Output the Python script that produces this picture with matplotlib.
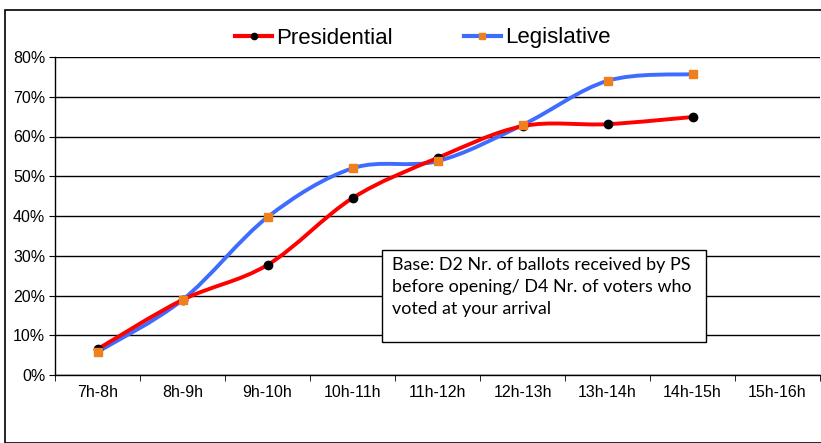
import numpy as np
import matplotlib
matplotlib.use("Agg")
import matplotlib.pyplot as plt
from matplotlib.path import Path
from matplotlib.patches import PathPatch, Rectangle
from matplotlib.lines import Line2D
from matplotlib.ticker import PercentFormatter, FixedLocator

categories = ["7h-8h", "8h-9h", "9h-10h", "10h-11h", "11h-12h",
              "12h-13h", "13h-14h", "14h-15h", "15h-16h"]
presidential = [6.5, 18.9, 27.7, 44.5, 54.6, 62.6, 63.1, 64.9]
legislative = [5.8, 18.9, 39.7, 52.0, 53.8, 62.9, 74.0, 75.7]

RED = "#ff0000"
BLUE = "#3d6cff"
ORANGE = "#f07f1e"
tick_font = ["Liberation Sans", "DejaVu Sans"]


def smooth_path(xs, ys):
    # Excel-style smoothed line: cubic Bezier segments through the points
    pts = np.column_stack([xs, ys]).astype(float)
    verts = [pts[0]]
    codes = [Path.MOVETO]
    n = len(pts)
    for i in range(n - 1):
        p0 = pts[max(i - 1, 0)]
        p1 = pts[i]
        p2 = pts[i + 1]
        p3 = pts[min(i + 2, n - 1)]
        c1 = p1 + (p2 - p0) / 6.0
        c2 = p2 - (p3 - p1) / 6.0
        verts += [c1, c2, p2]
        codes += [Path.CURVE4] * 3
    return Path(verts, codes)


fig = plt.figure(figsize=(8.21, 4.43), dpi=100)
fig.patches.append(Rectangle((5 / 821, 0.0), 1.0, 1 - 10 / 443, transform=fig.transFigure,
                             fill=False, edgecolor="black", linewidth=1.2))
ax = fig.add_axes([55 / 821, 68 / 443, 765 / 821, 318 / 443])

x = np.arange(len(presidential))
ax.add_patch(PathPatch(smooth_path(x, legislative), fill=False, edgecolor=BLUE,
                       linewidth=2.8, capstyle="round", zorder=3))
ax.add_patch(PathPatch(smooth_path(x, presidential), fill=False, edgecolor=RED,
                       linewidth=2.8, capstyle="round", zorder=4))
ax.plot(x, presidential, linestyle="none", marker="o", markersize=6,
        color="black", zorder=6)
ax.plot(x, legislative, linestyle="none", marker="s", markersize=6,
        color=ORANGE, zorder=6)

ax.set_xlim(-0.5, len(categories) - 0.5)
ax.set_ylim(0, 80)
ax.set_yticks(range(0, 81, 10))
ax.yaxis.set_major_formatter(PercentFormatter(decimals=0))
ax.set_xticks(range(len(categories)))
ax.set_xticklabels(categories)
ax.xaxis.set_minor_locator(FixedLocator(np.arange(-0.5, len(categories), 1.0)))
ax.tick_params(axis="x", which="major", length=0, pad=7)
ax.tick_params(axis="x", which="minor", length=4, direction="out")
ax.tick_params(axis="y", length=4, direction="out", pad=3)
for lab in ax.get_xticklabels() + ax.get_yticklabels():
    lab.set_family(tick_font)
    lab.set_fontsize(11.5)
ax.grid(axis="y", color="black", linewidth=1.0)
ax.set_axisbelow(True)
for side in ["top", "right"]:
    ax.spines[side].set_visible(False)
ax.spines["left"].set_linewidth(1.0)
ax.spines["bottom"].set_linewidth(1.0)

handles = [
    Line2D([], [], color=RED, linewidth=3, marker="o", markersize=4.5,
           markerfacecolor="black", markeredgecolor="black"),
    Line2D([], [], color=BLUE, linewidth=3, marker="s", markersize=4.5,
           markerfacecolor=ORANGE, markeredgecolor=ORANGE),
]
fig.legend(handles, ["Presidential", "Legislative"], loc="center",
           bbox_to_anchor=(423 / 821, 1 - 38 / 443), ncol=2, frameon=False,
           handlelength=1.65, handletextpad=0.2, columnspacing=3.2,
           prop={"family": ["Liberation Sans", "DejaVu Sans"], "size": 16})

# note box
ax.add_patch(Rectangle((0.4275, 0.104), 0.4235, 0.289, transform=ax.transAxes,
                       facecolor="white", edgecolor="black", linewidth=1.0,
                       zorder=7))
ax.text(0.4405, 0.372, "Base: D2 Nr. of ballots received by PS\n"
        "before opening/ D4 Nr. of voters who\nvoted at your arrival",
        transform=ax.transAxes, ha="left", va="top", fontsize=12.9,
        family=["Lato", "DejaVu Sans"], linespacing=1.47, zorder=8)

fig.savefig("out.png", dpi=100)
